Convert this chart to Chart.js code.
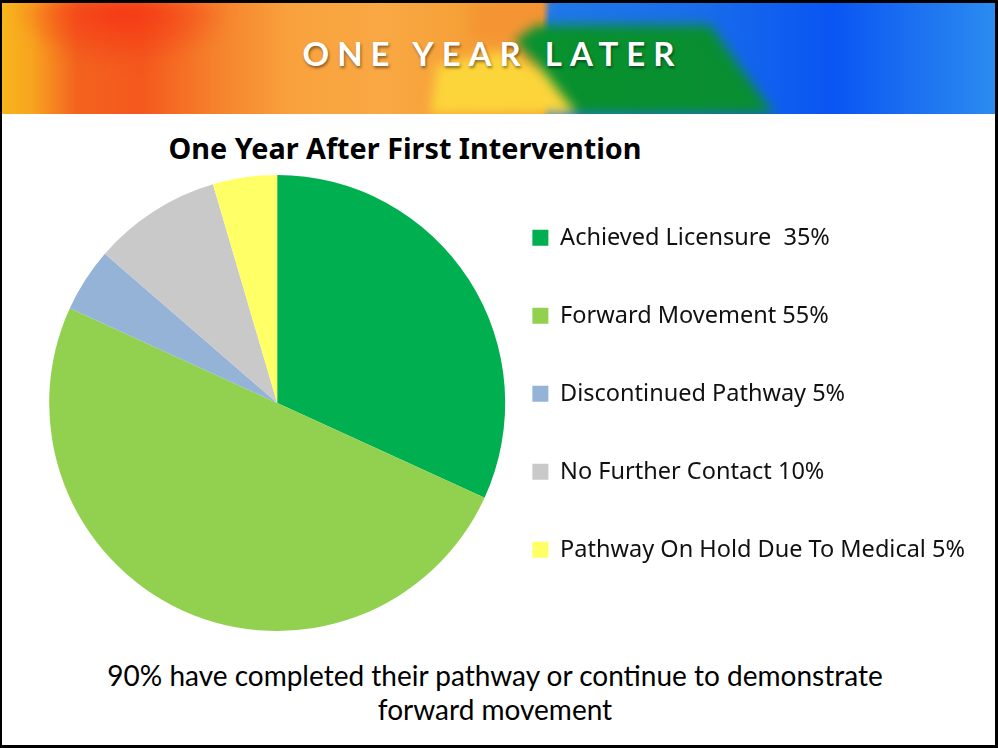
<!DOCTYPE html>
<html>
<head>
<meta charset="utf-8">
<script src="https://cdn.jsdelivr.net/npm/chart.js@4.4.1/dist/chart.umd.min.js"></script>
<style>
    html, body { margin: 0; padding: 0; background: #fff; }
    body { width: 998px; height: 748px; position: relative; overflow: hidden; font-family: Lato, sans-serif; }
    .frame { position: absolute; left: 0; top: 0; width: 998px; height: 748px; box-sizing: border-box; border: 3px solid #000; border-left-width: 2px; pointer-events: none; z-index: 5; }
    .banner { position: absolute; left: 2px; top: 3px; width: 993px; height: 111px; overflow: hidden;
        background: linear-gradient(90deg, #f7b51d 0px, #f8a41f 30px, #f3621f 75px, #f4581d 140px, #f6802b 210px, #f9a23d 290px, #f9a843 380px, #f6a038 460px, #f49432 540px, #1f78ea 548px, #1a6ee9 690px, #0a55f3 830px, #1f76f0 930px, #2a8cf0 993px); }
    .blur { position: absolute; left: 0; top: 0; width: 100%; height: 100%; filter: blur(6px); }
    .shape { position: absolute; left: 0; top: 0; width: 100%; height: 100%; }
    .red { background: radial-gradient(ellipse 110px 55px at 120px 8px, rgba(245,55,22,0.95), rgba(245,55,22,0) 100%); }
    .orange-top { background: #f49432; clip-path: polygon(470px 0, 548px 0, 505px 36px, 470px 36px); }
    .yellow { background: #fcd53a; clip-path: polygon(435px 62px, 500px 48px, 542px 68px, 575px 111px, 428px 111px); }
    .green { background: linear-gradient(90deg, #0d9a36, #08902e 60%, #0a8a3a); clip-path: polygon(512px 38px, 535px 22px, 708px 22px, 772px 111px, 575px 111px, 540px 66px); }
    .banner-title { position: absolute; left: -8px; top: 33px; width: 993px; text-align: center; color: #fff; font: 700 33px Lato, sans-serif; letter-spacing: 8px; text-indent: 8px; text-shadow: 1px 2px 3px rgba(0,0,0,0.45); }
    .chart-title { position: absolute; left: 0; top: 128px; width: 810px; text-align: center; font: 700 28.8px "Noto Sans", sans-serif; color: #000; }
    .note { position: absolute; left: 0; top: 658px; width: 990px; text-align: center; font: 400 28px/34px Lato, sans-serif; color: #000; }
    #pie { position: absolute; left: -1px; top: 175px; }
</style>
</head>
<body>
<div class="banner">
    <div class="blur">
        <div class="shape red"></div>
        <div class="shape orange-top"></div>
        <div class="shape yellow"></div>
        <div class="shape green"></div>
    </div>
</div>
<div class="banner-title">ONE YEAR LATER</div>
<div class="chart-title">One Year After First Intervention</div>
<canvas id="pie" width="976" height="456"></canvas>
<div class="note">90% have completed their pathway or continue to demonstrate<br>forward movement</div>
<div class="frame"></div>

<script>
const categories = [
    'Achieved Licensure  35%',
    'Forward Movement 55%',
    'Discontinued Pathway 5%',
    'No Further Contact 10%',
    'Pathway On Hold Due To Medical 5%'
]
const values = [35, 55, 5, 10, 5]
const colors = ['#00b050', '#92d050', '#95b3d7', '#c9c9c9', '#ffff66']

const pieCanvas = document.getElementById('pie')

const data = {
    labels: categories,
    datasets: [{
        data: values,
        backgroundColor: colors,
        borderWidth: 0,
        hoverOffset: 0,
        offset: 0
    }]
};

const config = {
    type: 'pie',
    data: data,
    options: {
        responsive: false,
        animation: false,
        devicePixelRatio: 1,
        events: [],
        layout: {
            // pie radius comes from the height, legend sits on the right
            padding: { left: 44, right: 0, top: 0, bottom: 0 }
        },
        plugins: {
            tooltip: { enabled: false },
            legend: {
                position: 'right',
                align: 'center',
                // tiny empty title only nudges the column down a few px
                title: { display: true, text: '', font: { size: 1 }, padding: { top: 7, bottom: 7 } },
                labels: {
                    boxWidth: 16,
                    boxHeight: 16,
                    padding: 21,
                    color: '#111',
                    font: { family: 'Noto Sans', size: 23.5, lineHeight: '57px' },
                    generateLabels: function(chart) {
                        const items = Chart.overrides.pie.plugins.legend.labels.generateLabels(chart)
                        // array text -> row height follows the font lineHeight
                        items.forEach(item => { item.text = [item.text]; item.lineWidth = 0 })
                        return items
                    }
                }
            }
        }
    }
};

new Chart(pieCanvas, config)
</script>
</body>
</html>
